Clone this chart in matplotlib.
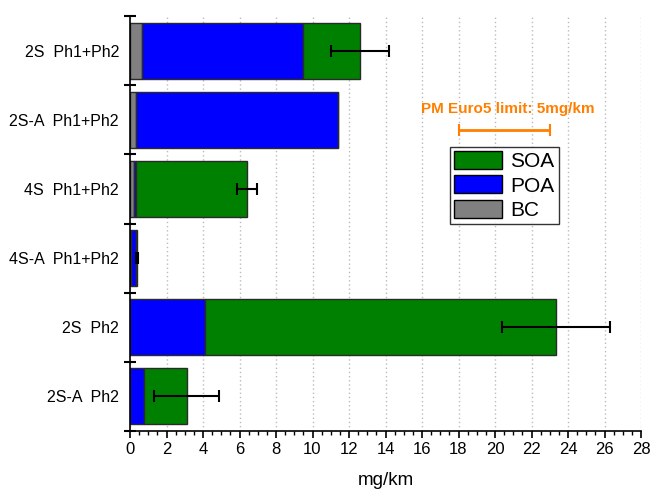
import matplotlib
matplotlib.use("Agg")
import matplotlib.pyplot as plt
from matplotlib.patches import Patch
import numpy as np

plt.rcParams['font.family'] = ['Liberation Sans', 'DejaVu Sans']

categories = ["2S  Ph1+Ph2", "2S-A  Ph1+Ph2", "4S  Ph1+Ph2", "4S-A  Ph1+Ph2", "2S  Ph2", "2S-A  Ph2"]
bc = [0.66, 0.33, 0.20, 0.07, 0.0, 0.0]
poa = [8.82, 11.07, 0.13, 0.28, 4.1, 0.75]
soa = [3.12, 0.0, 6.07, 0.05, 19.25, 2.37]
err = [1.6, 0.0, 0.55, 0.05, 2.95, 1.78]
euro5_start = 18
euro5_limit = 5

fig = plt.figure(figsize=(6.56, 4.9), dpi=100)
ax = fig.add_axes([130/656, 1-431/490, 511/656, 415/490])

y = np.arange(len(categories))
h = 0.81
ec = '#2a2a2a'
bc_a = np.array(bc); poa_a = np.array(poa); soa_a = np.array(soa)
ax.barh(y, bc_a, height=h, color='#808080', edgecolor=ec, linewidth=1, zorder=2)
ax.barh(y, poa_a, left=bc_a, height=h, color='#0000FF', edgecolor=ec, linewidth=1, zorder=2)
ax.barh(y, soa_a, left=bc_a+poa_a, height=h, color='#008000', edgecolor=ec, linewidth=1, zorder=2)
tot = bc_a + poa_a + soa_a
for i in range(len(categories)):
    if err[i] > 0:
        ax.errorbar(tot[i], y[i], xerr=err[i], fmt='none', ecolor='black',
                    elinewidth=1.5, capsize=4, capthick=1.5, zorder=3)

ax.set_xlim(0, 28)
ax.set_ylim(len(categories)-0.5, -0.5)

ax.set_xticks(np.arange(0, 29, 2))
ax.set_xticks(np.arange(0, 28.01, 0.5), minor=True)
ax.tick_params(axis='x', which='major', direction='out', length=5, width=1.2, labelsize=12, pad=3)
ax.tick_params(axis='x', which='minor', direction='out', length=3, width=1)

ax.set_yticks(np.arange(-0.5, len(categories), 1))
ax.set_yticklabels([])
ax.set_yticks(y, minor=True)
ax.set_yticklabels(categories, minor=True)
ax.tick_params(axis='y', which='major', direction='inout', length=8, width=1.5)
ax.tick_params(axis='y', which='minor', direction='in', length=2, width=1, labelsize=11.5, pad=8)

for s in ['top', 'right']:
    ax.spines[s].set_visible(False)
for s in ['left', 'bottom']:
    ax.spines[s].set_linewidth(1.2)

ax.grid(axis='x', which='major', linestyle=(0, (1, 2)), color='#bbbbbb', linewidth=1, zorder=0)
ax.set_axisbelow(True)

ax.set_xlabel("mg/km", fontsize=13.5, labelpad=11)

# Euro5 limit
orange = '#FF7F00'
ax.errorbar(euro5_start + euro5_limit/2, 1.15, xerr=euro5_limit/2, fmt='none', ecolor=orange,
            elinewidth=2, capsize=4, capthick=1.5, zorder=3)
ax.text(euro5_start + euro5_limit/2 + 0.2, 0.84, "PM Euro5 limit: 5mg/km", color=orange,
        fontsize=11, fontweight='bold', ha='center', va='center')

handles = [Patch(facecolor='#008000', edgecolor='black', label='SOA'),
           Patch(facecolor='#0000FF', edgecolor='black', label='POA'),
           Patch(facecolor='#808080', edgecolor='black', label='BC')]
leg = ax.legend(handles=handles, loc='upper left', bbox_to_anchor=(450/656, 1-147/490),
                bbox_transform=fig.transFigure, fontsize=15, frameon=True, fancybox=False,
                edgecolor='black', handlelength=2.3, handleheight=0.95, handletextpad=0.4,
                borderpad=0.2, labelspacing=0.2, borderaxespad=0)
leg.get_frame().set_linewidth(1)

fig.savefig("out.png", dpi=100)
